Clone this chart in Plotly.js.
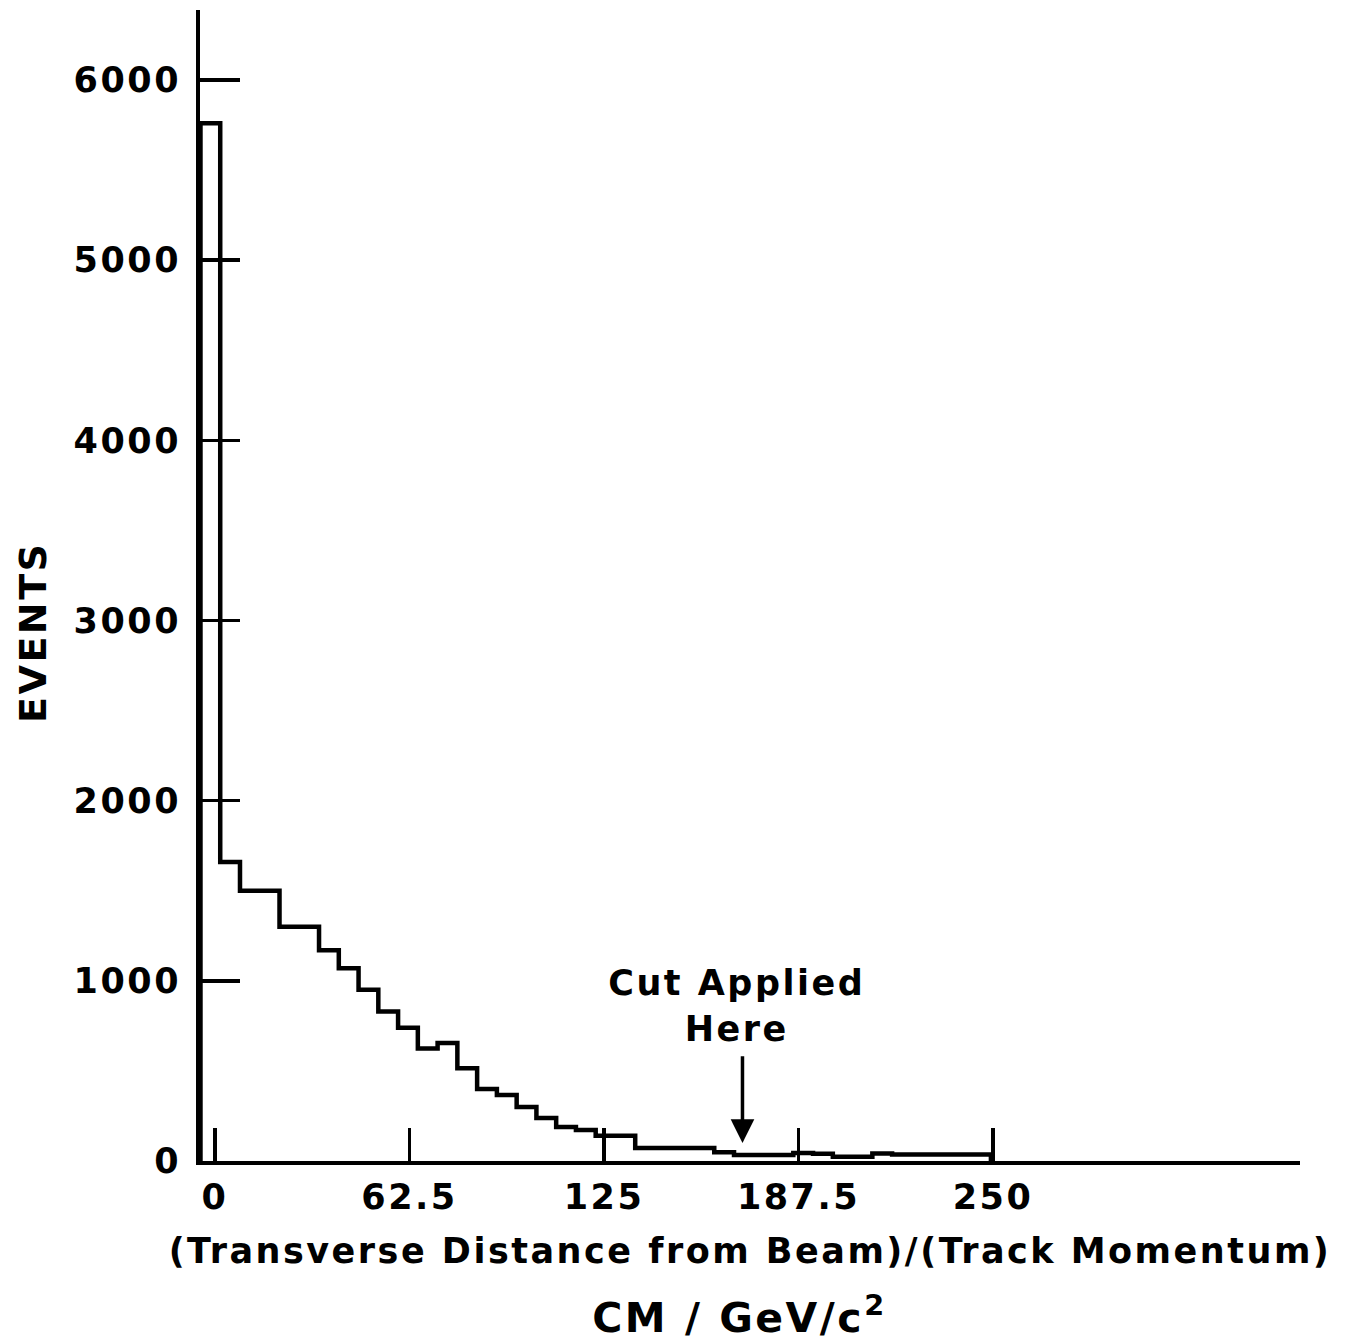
<!DOCTYPE html>
<html>
<head>
<meta charset="utf-8">
<script src="https://cdn.plot.ly/plotly-3.0.1.min.js"></script>
<style>
  html, body { margin: 0; padding: 0; background: #fff; }
  #chart { width: 1347px; height: 1343px; }
  .main-svg text { letter-spacing: 2.5px; }
</style>
</head>
<body>
<div id="chart"></div>
<script>
// Bin edges (x, CM/GeV/c^2) — 40 bins
const binEdges = [-4.67, 1.68, 8.03, 14.38, 20.73, 27.08, 33.43, 39.78, 46.13, 52.48,
  58.83, 65.18, 71.53, 77.88, 84.23, 90.58, 96.93, 103.28, 109.63, 115.98,
  122.33, 128.68, 135.03, 141.38, 147.73, 154.08, 160.43, 166.78, 173.13, 179.48,
  185.83, 192.18, 198.53, 204.88, 211.23, 217.58, 223.93, 230.28, 236.63, 242.98,
  249.33];
// Events per bin
const events = [5760, 1660, 1500, 1500, 1300, 1300, 1170, 1070, 950, 830,
  740, 625, 655, 515, 400, 366, 300, 238, 189, 172,
  140, 140, 72, 72, 72, 72, 48, 33, 33, 33,
  45, 40, 24, 24, 42, 36, 36, 36, 36, 36];
const xTickVals = [0, 62.5, 125, 187.5, 250];
const xTickText = ["0", "62.5", "125", "187.5", "250"];
const yTickVals = [0, 1000, 2000, 3000, 4000, 5000, 6000];
const yTickText = ["0", "1000", "2000", "3000", "4000", "5000", "6000"];
const cutX = 169.5;
const cutLabel = "Cut Applied<br>Here";
const xTitle1 = "(Transverse Distance from Beam)/(Track Momentum)";
const xTitle2 = "CM / GeV/c<sup>2</sup>";
const yTitle = "EVENTS";

// Build step outline from the bin edges/counts
const sx = [binEdges[0]];
const sy = [0];
for (let i = 0; i < events.length; i++) { sx.push(binEdges[i]); sy.push(events[i]); }
sx.push(binEdges[events.length]); sy.push(events[events.length - 1]);
sx.push(binEdges[events.length]); sy.push(0);

const FONT = "DejaVu Sans";
const tf = (s) => ({ family: FONT, size: s, color: "#000", weight: "bold" });
const trace = {
  x: sx, y: sy, type: "scatter", mode: "lines",
  line: { shape: "hv", color: "#000", width: 4.5 },
  hoverinfo: "skip", showlegend: false
};

const layout = {
  width: 1347, height: 1343, autosize: false,
  margin: { l: 200, r: 47, t: 10, b: 182 },
  paper_bgcolor: "#fff", plot_bgcolor: "#fff",
  font: tf(35),
  showlegend: false,
  xaxis: {
    range: [-4.82, 348.65], showgrid: false, zeroline: false,
    showline: true, linecolor: "#000", linewidth: 4,
    ticks: "inside", ticklen: 33, tickwidth: 3.5, tickcolor: "#000",
    tickmode: "array", tickvals: xTickVals, ticktext: xTickText,
    tickfont: tf(35),
    ticklabelstandoff: 2,
    title: { text: xTitle1, font: tf(35), standoff: 23 }
  },
  yaxis: {
    range: [0, 6388], showgrid: false, zeroline: false,
    showline: true, linecolor: "#000", linewidth: 4,
    ticks: "inside", ticklen: 40, tickwidth: 3.5, tickcolor: "#000",
    tickmode: "array", tickvals: yTickVals, ticktext: yTickText,
    tickfont: tf(35),
    ticklabelstandoff: 8
  },
  annotations: [
    { xref: "paper", yref: "paper", x: 0.49, y: -0.134, xanchor: "center", yanchor: "middle",
      text: xTitle2, showarrow: false, font: tf(41) },
    { xref: "paper", yref: "paper", x: -0.152, y: 0.459, xanchor: "center", yanchor: "middle",
      text: yTitle, textangle: -90, showarrow: false, font: tf(38) },
    { xref: "x", yref: "y", x: cutX - 1.8, y: 860, xanchor: "center", yanchor: "middle",
      text: cutLabel, showarrow: false, font: tf(35) },
    { xref: "x", yref: "y", x: cutX, y: 100, axref: "x", ayref: "y", ax: cutX, ay: 590,
      text: "", showarrow: true, arrowhead: 2, arrowsize: 1.35, arrowwidth: 3.5, arrowcolor: "#000" }
  ]
};

Plotly.newPlot("chart", [trace], layout, { displayModeBar: false, staticPlot: true });
</script>
</body>
</html>
